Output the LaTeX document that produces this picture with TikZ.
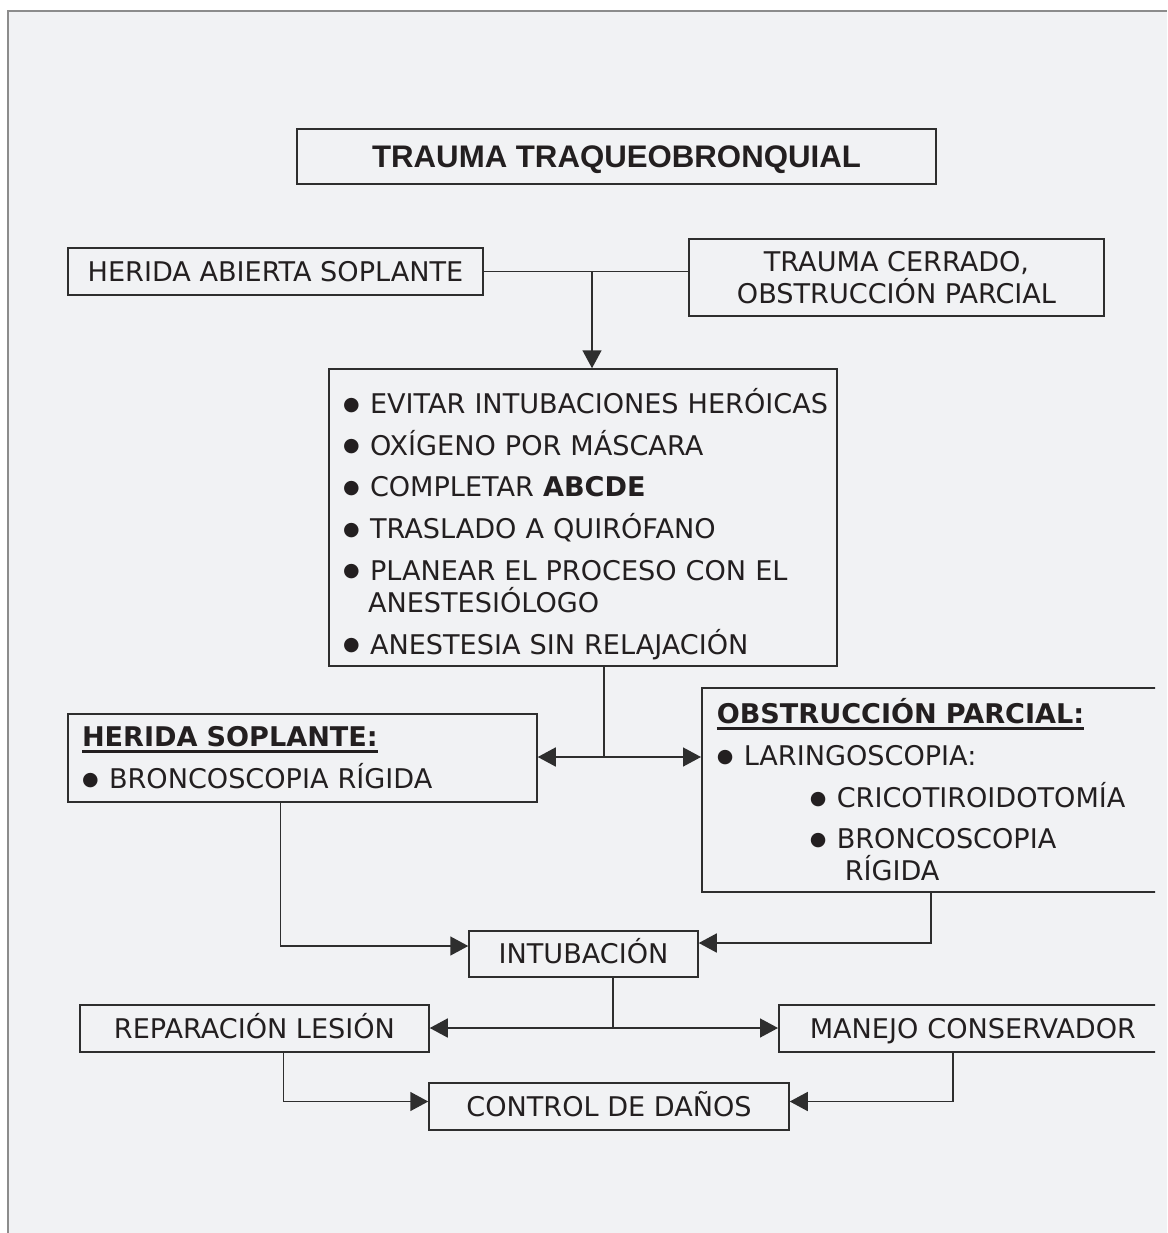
\documentclass[tikz,border=0pt]{standalone}
\usepackage{fontspec}
\setmainfont{DejaVu Sans}
\newfontfamily\titlefont{Liberation Sans}
\usetikzlibrary{arrows.meta}

\definecolor{fondo}{HTML}{F1F2F4}
\definecolor{marco}{HTML}{8C8C8C}
\definecolor{linea}{HTML}{2E2E2E}
\definecolor{tinta}{HTML}{231F20}

\newcommand{\punto}[1]{\mbox{\makebox[27pt][l]{\raisebox{3.5pt}{\fontsize{19}{19}\selectfont ●}}#1}}
\newcommand{\subrayado}[1]{\sbox0{#1}\rlap{\rule[-6pt]{\wd0}{2.4pt}}\usebox0}

\begin{document}
\begin{tikzpicture}[x=1pt, y=-1pt,
    caja/.style={draw=linea, line width=1.5pt, inner sep=0pt, text=tinta,
      font=\fontsize{27.1}{32}\selectfont},
    unalinea/.style={text height=19.7pt, text depth=0pt},
    lista/.style={caja, align=left, inner xsep=15pt},
    enlace/.style={draw=linea, line width=1.5pt},
    flecha/.style={enlace, -{Triangle[length=18pt, width=19pt]}}]
  \useasboundingbox (0, 0) rectangle (1167, 1233);
  \fill[fondo] (8, 11) rectangle (1167, 1233);
  \draw[marco, line width=2pt] (8, 1233) -- (8, 11) -- (1167, 11);

  \node[caja, minimum width=639pt, minimum height=55pt, text height=22.3pt, text depth=0pt,
    font=\titlefont\bfseries\fontsize{31.2}{36}\selectfont] (Trauma) at (616.5, 156.5) {TRAUMA TRAQUEOBRONQUIAL};
  \node[caja, unalinea, minimum width=415pt, minimum height=47pt] (Herida Abierta) at (275.5, 271.5) {HERIDA ABIERTA SOPLANTE};
  \node[caja, align=center, minimum width=415pt, minimum height=77pt] (Trauma Cerrado) at (896.5, 277.5) {TRAUMA CERRADO,\\OBSTRUCCIÓN PARCIAL};
  \node[lista, inner xsep=14pt, text width=480pt, minimum height=297pt] (Medidas) at (583, 517.5) {%
    \rule{0pt}{38pt}\punto{EVITAR INTUBACIONES HERÓICAS}\\[9.7pt]
    \punto{OXÍGENO POR MÁSCARA}\\[9.7pt]
    \punto{COMPLETAR \textbf{ABCDE}}\\[9.7pt]
    \punto{TRASLADO A QUIRÓFANO}\\[9.7pt]
    \punto{PLANEAR EL PROCESO CON EL}\\
    \hspace*{25pt}ANESTESIÓLOGO\\[9.7pt]
    \punto{ANESTESIA SIN RELAJACIÓN}};
  \node[lista, inner xsep=14pt, text width=441pt, minimum height=88pt] (Herida Soplante) at (302.5, 758) {%
    \subrayado{\textbf{HERIDA SOPLANTE:}}\\[10pt]
    \punto{BRONCOSCOPIA RÍGIDA}};
  \begin{scope}
    \clip (0, 0) rectangle (1155, 1233);
    \node[lista, anchor=north west, text width=440pt, minimum height=204pt] (Obstruccion) at (701, 687) {%
      \subrayado{\textbf{OBSTRUCCIÓN PARCIAL:}}\\[10pt]
      \punto{LARINGOSCOPIA:}\\[10pt]
      \hspace*{93pt}\punto{CRICOTIROIDOTOMÍA}\\[9pt]
      \hspace*{93pt}\punto{BRONCOSCOPIA}\\
      \hspace*{128pt}RÍGIDA};
    \node[caja, unalinea, anchor=north west, align=left, inner xsep=31pt, text width=360pt, minimum height=47pt] (Manejo) at (778, 1004) {MANEJO CONSERVADOR};
  \end{scope}
  \node[caja, unalinea, minimum width=229pt, minimum height=46pt] (Intubacion) at (583.5, 954) {INTUBACIÓN};
  \node[caja, unalinea, minimum width=349pt, minimum height=47pt] (Reparacion) at (254.5, 1028.5) {REPARACIÓN LESIÓN};
  \node[caja, unalinea, minimum width=360pt, minimum height=47pt] (Control) at (609, 1106.5) {CONTROL DE DAÑOS};

  \coordinate (Cruce Alto) at (592, 271.5);
  \coordinate (Cruce Medio) at (604, 757);
  \coordinate (Cruce Bajo) at (613, 1028);
  \draw[enlace] (Herida Abierta) -- (Trauma Cerrado.west |- Herida Abierta);
  \draw[flecha] (Cruce Alto) -- (Cruce Alto |- Medidas.north);
  \draw[enlace] (Medidas.south -| Cruce Medio) -- (Cruce Medio);
  \draw[flecha] (Cruce Medio) -- (Cruce Medio -| Herida Soplante.east);
  \draw[flecha] (Cruce Medio) -- (Cruce Medio -| Obstruccion.west);
  \draw[flecha] ([xshift=213pt]Herida Soplante.south west) |- ([yshift=8pt]Intubacion.west);
  \draw[flecha] ([xshift=230pt]Obstruccion.south west) |- ([yshift=11pt]Intubacion.east);
  \draw[enlace] (Intubacion.south -| Cruce Bajo) -- (Cruce Bajo);
  \draw[flecha] (Cruce Bajo) -- (Cruce Bajo -| Reparacion.east);
  \draw[flecha] (Cruce Bajo) -- (Cruce Bajo -| Manejo.west);
  \draw[flecha] ([xshift=29pt]Reparacion.south) |- ([yshift=5pt]Control.west);
  \draw[flecha] ([xshift=175pt]Manejo.south west) |- ([yshift=5pt]Control.east);
\end{tikzpicture}
\end{document}
